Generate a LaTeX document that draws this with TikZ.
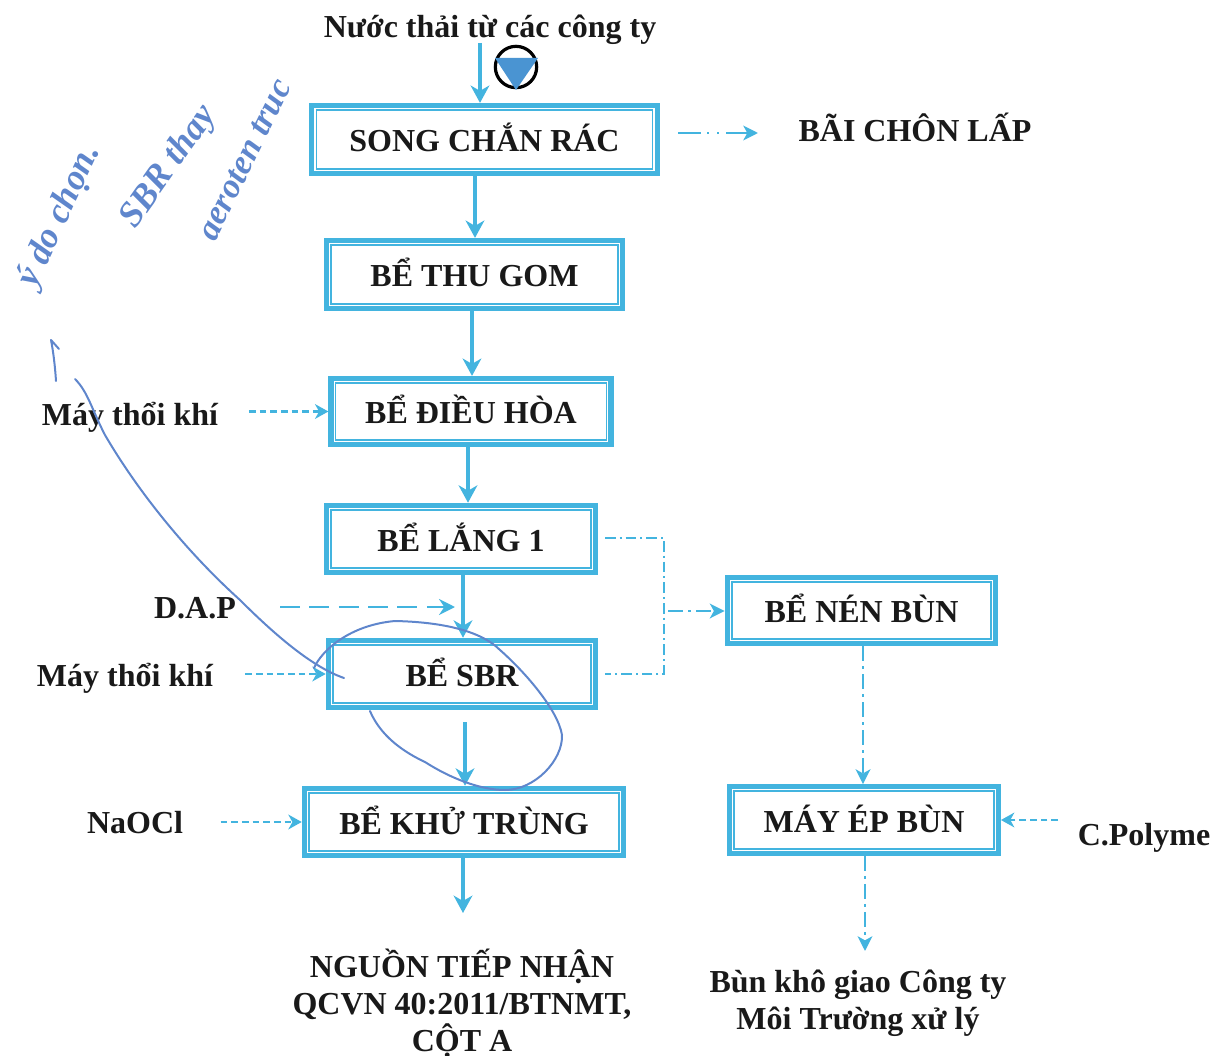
\documentclass[tikz,border=0pt]{standalone}
\usepackage{fontspec}
\setmainfont{Liberation Serif}
\usetikzlibrary{arrows.meta}
\definecolor{flowc}{HTML}{43B4DF}
\definecolor{penc}{HTML}{5F86CC}
\definecolor{tric}{HTML}{4A94D2}
\tikzset{
  x=0.75pt,y=-0.75pt,
  tank/.style={draw=flowc,line width=3.9pt,fill=white,inner sep=0pt,font=\bfseries\fontsize{24}{28}\selectfont,text=black!90,text height=18pt,text depth=0pt},
  tankin/.style={draw=flowc,line width=1.3pt},
  lab/.style={font=\bfseries\fontsize{24}{27.7}\selectfont,text=black!90,align=center,inner sep=0pt},
  flow/.style={draw=flowc,line width=3pt,-{Stealth[length=13pt,width=14pt,inset=4pt]}},
  feed/.style={draw=flowc,line width=1.8pt,dash pattern=on 5pt off 3pt,-{Stealth[length=10pt,width=11pt,inset=3pt]}},
  feedlong/.style={draw=flowc,line width=2.2pt,dash pattern=on 15pt off 7pt,-{Stealth[length=12pt,width=12pt,inset=4pt]}},
  sludge/.style={draw=flowc,line width=2pt,dash pattern=on 11pt off 4pt on 2pt off 4pt,-{Stealth[length=11pt,width=11pt,inset=3pt]}},
  sludgetop/.style={draw=flowc,line width=2pt,dash pattern=on 17pt off 5pt on 1.5pt off 6pt on 1.5pt off 5pt,-{Stealth[length=11pt,width=11pt,inset=3pt]}},
  sludgeline/.style={draw=flowc,line width=1.1pt,dash pattern=on 8pt off 3pt on 1.5pt off 3pt},
  pen/.style={draw=penc,line width=1.5pt,line cap=round,line join=round},
  hand/.style={text=penc,inner sep=0pt,font=\bfseries\itshape\fontsize{27}{32}\selectfont}
}
\begin{document}
\begin{tikzpicture}
\useasboundingbox (0,0) rectangle (1215,1056);
% tanks
\node[tank,minimum width=259pt,minimum height=51pt] (song) at (484.5,139.5) {SONG CHẮN RÁC};
\node[tank,minimum width=222pt,minimum height=51pt] (thu) at (474.5,274.5) {BỂ THU GOM};
\node[tank,minimum width=210pt,minimum height=49.5pt] (dieu) at (471,411.5) {BỂ ĐIỀU HÒA};
\node[tank,minimum width=202pt,minimum height=50.5pt] (lang) at (461,539) {BỂ LẮNG 1};
\node[tank,minimum width=200.5pt,minimum height=50.5pt] (sbr) at (462,674) {BỂ SBR};
\node[tank,minimum width=239.5pt,minimum height=50.5pt] (khu) at (464,822) {BỂ KHỬ TRÙNG};
\node[tank,minimum width=201.5pt,minimum height=49.5pt] (nen) at (861.5,610.5) {BỂ NÉN BÙN};
\node[tank,minimum width=201.5pt,minimum height=50pt] (ep) at (864,820) {MÁY ÉP BÙN};
\foreach \n in {song,thu,dieu,lang,sbr,khu,nen,ep}
  \draw[tankin] ([xshift=5.4pt,yshift=-5.4pt]\n.north west) rectangle ([xshift=-5.4pt,yshift=5.4pt]\n.south east);
% labels
\node[lab] (src) at (490,30) {Nước thải từ các công ty};
\node[lab] (bai) at (915,127) {BÃI CHÔN LẤP};
\node[lab] (may1) at (130,417) {Máy thổi khí};
\node[lab] (dap) at (195,608) {D.A.P};
\node[lab] (may2) at (125,678) {Máy thổi khí};
\node[lab] (naocl) at (135,823) {NaOCl};
\node[lab] (poly) at (1144,838) {C.Polyme};
\node[lab] (nguon) at (462,1003) {NGUỒN TIẾP NHẬN\\QCVN 40:2011/BTNMT,\\CỘT A};
\node[lab] (bun) at (858,1003) {Bùn khô giao Công ty\\Môi Trường xử lý};
% pump symbol
\node[circle,draw=black,line width=2.4pt,minimum size=31pt,inner sep=0pt] (pump) at (516,67) {};
\fill[tric] (495,58) -- (538,58) -- (516,90) -- cycle;
% main flow
\coordinate (srcfoot) at (480,43);
\coordinate (outfoot) at (463,913);
\coordinate (sbrfoot) at (465,722);
\draw[flow] (srcfoot) -- (song.north -| srcfoot);
\draw[flow] (song.south -| 475,0) -- (thu.north -| 475,0);
\draw[flow] (thu.south -| 472,0) -- (dieu.north -| 472,0);
\draw[flow] (dieu.south -| 468,0) -- (lang.north -| 468,0);
\draw[flow] (lang.south -| 463,0) -- (sbr.north -| 463,0);
\draw[flow] (sbrfoot) -- (khu.north -| sbrfoot);
\draw[flow] (khu.south -| outfoot) -- (outfoot);
% feeds
\draw[feed,shorten <=23pt] (may1.east |- dieu.west) -- (dieu.west);
\draw[feed,shorten <=24pt] (may2.east |- sbr.west) -- (sbr.west);
\draw[feed,shorten <=28pt] (naocl.east |- khu.west) -- (khu.west);
\draw[feedlong,shorten <=33pt] (dap.east |- 0,607) -- (455,607);
\coordinate (polyend) at (1058,820);
\draw[feed] (polyend) -- (ep.east);
% sludge
\coordinate (songout) at (678,133);
\coordinate (baiin) at (758,133);
\draw[sludgetop] (songout) -- (baiin);
\coordinate (bus1) at (605,538);
\coordinate (bus2) at (664,538);
\coordinate (bus3) at (664,674);
\coordinate (bus4) at (605,674);
\coordinate (busmid) at (668,611);
\draw[sludgeline] (bus1) -- (bus2) -- (bus3) -- (bus4);
\draw[sludge] (busmid) -- (nen.west |- busmid);
\draw[sludge] (nen.south -| 863,0) -- (ep.north -| 863,0);
\coordinate (budend) at (865,951);
\draw[sludge] (ep.south -| budend) -- (budend);
% handwritten notes
\node[hand,rotate=65] (n1) at (60,216) {ý do chọn.};
\node[hand,rotate=55] (n2) at (169,167) {SBR thay};
\node[hand,rotate=64,font=\bfseries\itshape\fontsize{26}{30}\selectfont] (n3) at (245,160) {aeroten truc};
\draw[pen] (56,381) .. controls (55,365) and (53,350) .. (51,340) -- (59,349);
\draw[pen] (75,379) .. controls (88,392) and (92,410) .. (105,435)
  .. controls (140,495) and (190,555) .. (240,600)
  .. controls (280,640) and (315,668) .. (344,678);
\draw[pen] (370,711) .. controls (378,730) and (395,748) .. (425,762)
  .. controls (450,778) and (480,790) .. (505,790)
  .. controls (535,790) and (563,760) .. (562,735)
  .. controls (558,710) and (525,672) .. (500,650)
  .. controls (480,630) and (440,622) .. (395,621)
  .. controls (350,625) and (322,650) .. (314,668);
\end{tikzpicture}
\end{document}
